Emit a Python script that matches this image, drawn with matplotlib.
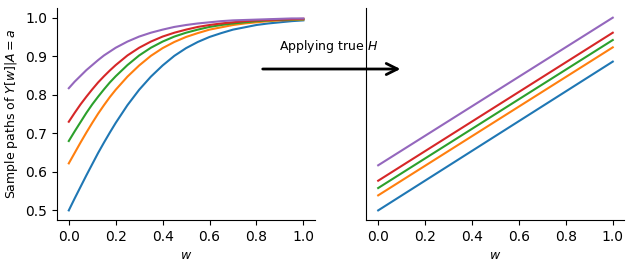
import matplotlib

matplotlib.use("Agg")
import matplotlib.pyplot as plt
from matplotlib.patches import FancyArrowPatch

# w grid used for the sample paths (left panel), denser near w=0
W = [0.000, 0.025, 0.050, 0.075, 0.100, 0.125, 0.150, 0.175, 0.200, 0.25, 0.30,
     0.35, 0.40, 0.45, 0.50, 0.55, 0.60, 0.65, 0.70, 0.75, 0.80, 0.85, 0.90,
     0.95, 1.00]

# sample paths Y[w] | A=a
Y_BLUE = [0.500, 0.531, 0.561, 0.591, 0.620, 0.649, 0.676, 0.702, 0.727, 0.773, 0.813,
          0.847, 0.876, 0.901, 0.921, 0.937, 0.950, 0.960, 0.969, 0.975, 0.981,
          0.985, 0.988, 0.991, 0.993]
Y_ORANGE = [0.622, 0.649, 0.676, 0.702, 0.727, 0.751, 0.773, 0.794, 0.813, 0.847, 0.876,
            0.901, 0.921, 0.937, 0.950, 0.960, 0.969, 0.975, 0.981, 0.985, 0.988,
            0.991, 0.993, 0.994, 0.995]
Y_GREEN = [0.680, 0.705, 0.729, 0.753, 0.775, 0.795, 0.814, 0.832, 0.848, 0.877, 0.902,
           0.922, 0.938, 0.951, 0.961, 0.969, 0.976, 0.981, 0.985, 0.988, 0.991,
           0.993, 0.994, 0.995, 0.996]
Y_RED = [0.730, 0.753, 0.775, 0.795, 0.814, 0.832, 0.848, 0.863, 0.877, 0.902, 0.922,
         0.938, 0.951, 0.961, 0.969, 0.976, 0.981, 0.985, 0.988, 0.991, 0.993,
         0.994, 0.995, 0.996, 0.997]
Y_PURPLE = [0.817, 0.834, 0.849, 0.864, 0.877, 0.890, 0.902, 0.912, 0.922, 0.938, 0.951,
            0.961, 0.969, 0.976, 0.981, 0.985, 0.988, 0.991, 0.993, 0.994, 0.995,
            0.996, 0.997, 0.998, 0.998]

# after applying H: straight lines, endpoints at w=0 and w=1
W_ENDS = [0.0, 1.0]
H_BLUE = [0.500, 0.886]
H_ORANGE = [0.539, 0.923]
H_GREEN = [0.558, 0.942]
H_RED = [0.577, 0.961]
H_PURPLE = [0.617, 1.000]

LEFT = [Y_BLUE, Y_ORANGE, Y_GREEN, Y_RED, Y_PURPLE]
RIGHT = [H_BLUE, H_ORANGE, H_GREEN, H_RED, H_PURPLE]


def main():
    fig = plt.figure(figsize=(6.34, 2.68), dpi=100)
    ax1 = fig.add_axes([0.090, 0.179, 0.407, 0.791])
    ax2 = fig.add_axes([0.578, 0.179, 0.407, 0.791], sharey=ax1)

    for ys in LEFT:
        ax1.plot(W, ys)
    for ys in RIGHT:
        ax2.plot(W_ENDS, ys)

    for ax in (ax1, ax2):
        ax.spines["top"].set_visible(False)
        ax.spines["right"].set_visible(False)
        ax.set_xlabel("$w$", fontsize=9)
    ax1.set_ylabel("Sample paths of $Y[w]|A=a$", fontsize=9)
    ax2.tick_params(axis="y", left=False, labelleft=False)

    # arrow between the panels
    fig.patches.append(FancyArrowPatch(
        (0.410, 0.7425), (0.636, 0.7425), transform=fig.transFigure,
        arrowstyle="->", mutation_scale=20, lw=2, color="black"))
    fig.text(0.519, 0.825, "Applying true $H$", ha="center", va="center",
             fontsize=9)

    fig.savefig("out.png", dpi=100)
    plt.close(fig)


if __name__ == "__main__":
    main()
